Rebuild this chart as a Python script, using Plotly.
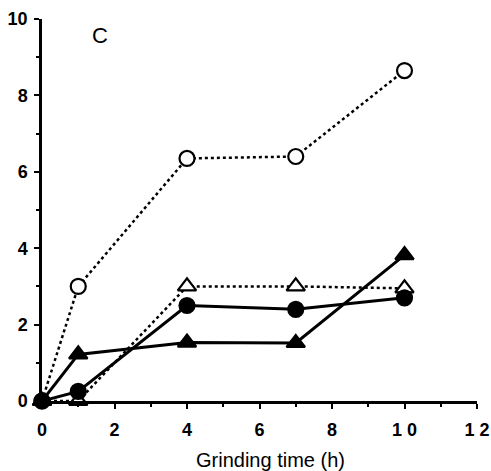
import plotly.graph_objects as go

time_h = [0, 1, 4, 7, 10]
open_circle = [0, 3.0, 6.35, 6.4, 8.65]
open_triangle = [0, 0, 3.0, 3.0, 2.95]
filled_circle = [0, 0.25, 2.5, 2.4, 2.7]
filled_triangle = [0, 1.22, 1.53, 1.52, 3.82]

x_ticks = [0, 2, 4, 6, 8, 10, 12]
x_tick_labels = ["0", "2", "4", "6", "8", "1 0", "1 2"]
y_ticks = [0, 2, 4, 6, 8, 10]
y_tick_labels = ["0", "2", "4", "6", "8", "10"]

fig = go.Figure()

def add(y, symbol, dash, color_fill, size):
    fig.add_trace(go.Scatter(
        x=time_h, y=y, mode="lines+markers",
        line=dict(color="black", width=3 if dash == "solid" else 2.5, dash=dash),
        marker=dict(symbol=symbol, size=size, color=color_fill,
                    line=dict(color="black", width=2.2)),
        cliponaxis=False, showlegend=False, hoverinfo="skip"))

add(open_circle, "circle", "dot", "white", 15)
add(open_triangle, "triangle-up", "dot", "white", 16)
add(filled_circle, "circle", "solid", "black", 15)
add(filled_triangle, "triangle-up", "solid", "black", 16)

fig.add_annotation(x=1.6, y=9.58, text="C", showarrow=False,
                   font=dict(family="Liberation Sans, Arial", size=22, color="black"))
fig.add_annotation(x=6.3, xref="x", y=-0.155, yref="paper", yanchor="middle",
                   text="Grinding time (h)", showarrow=False,
                   font=dict(family="Liberation Sans, Arial", size=20, color="black"))

tickfont = dict(family="Liberation Sans, Arial", size=18, color="black")

fig.update_layout(
    width=491, height=471,
    margin=dict(l=42, r=14, t=19, b=70, autoexpand=False),
    plot_bgcolor="white", paper_bgcolor="white",
    xaxis=dict(range=[0, 12], tickvals=x_ticks,
               ticktext=["<b>%s</b>" % t for t in x_tick_labels], automargin=False,
               showline=True, linecolor="black", linewidth=2.5, showgrid=False, zeroline=False,
               ticks="outside", ticklen=5, tickwidth=2, tickcolor="black", ticklabelstandoff=6,
               ticklabeloverflow="allow",
               minor=dict(dtick=1, tick0=0, ticks="outside", ticklen=3, tickwidth=1.5, tickcolor="black"),
               tickfont=tickfont),
    yaxis=dict(range=[0, 10], tickvals=y_ticks,
               ticktext=["<b>%s</b>" % t for t in y_tick_labels], automargin=False,
               showline=True, linecolor="black", linewidth=2.5, showgrid=False, zeroline=False,
               ticks="outside", ticklen=5, tickwidth=2, tickcolor="black", ticklabelstandoff=3,
               minor=dict(dtick=1, tick0=0, ticks="outside", ticklen=3, tickwidth=1.5, tickcolor="black"),
               tickfont=tickfont),
)

fig.write_html("out.html", config={"displayModeBar": False},
               post_script="document.body.style.margin='0';document.body.style.overflow='hidden';")
